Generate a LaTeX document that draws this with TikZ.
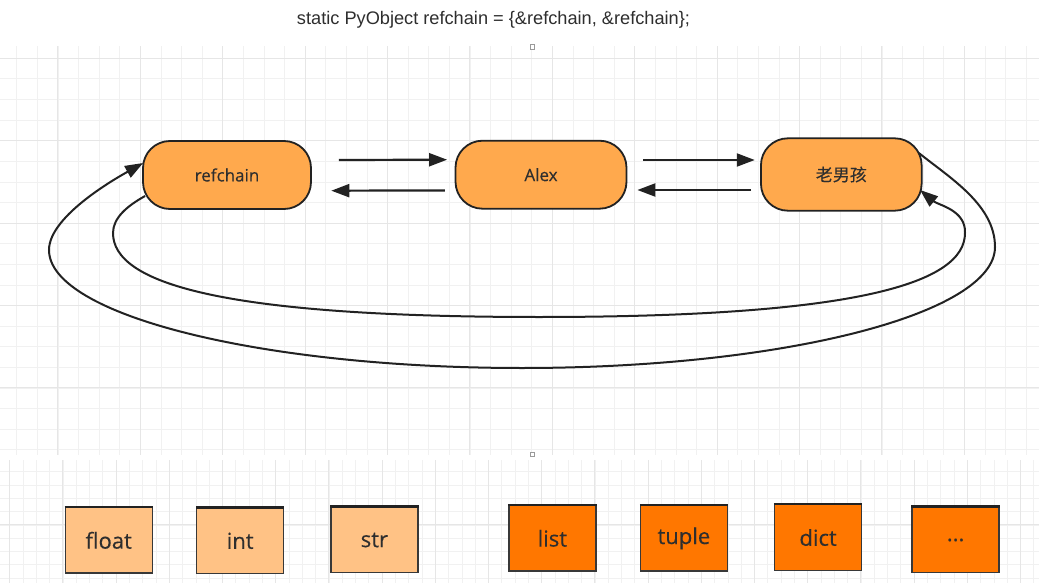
\documentclass[tikz,border=0pt]{standalone}
\usepackage{fontspec}
\setmainfont{Liberation Sans}
\newfontfamily\lblfont[FakeBold=0.3]{Open Sans}
\newfontfamily\cjk[FakeBold=0.3]{Noto Sans CJK SC}
\usetikzlibrary{arrows.meta,calc}
\definecolor{objfill}{HTML}{FFA94D}
\definecolor{lightbox}{HTML}{FFC285}
\definecolor{darkbox}{HTML}{FF7700}
\definecolor{ink}{HTML}{222222}
\definecolor{txt}{HTML}{2E2E2E}
\definecolor{gminor}{HTML}{F1F1F1}
\definecolor{gmajor}{HTML}{E6E6E6}
\definecolor{marker}{HTML}{9A9A9A}
\tikzset{
  obj/.style={draw=ink, line width=1.8pt, fill=objfill, rounded corners=27pt,
    minimum height=68pt, inner sep=0pt, text=txt,
    font=\lblfont\fontsize{17}{20}\selectfont},
  typebox/.style={draw=ink!90, line width=1.3pt, minimum width=87pt,
    minimum height=65.5pt, inner sep=0pt, text=txt,
    font=\lblfont\fontsize{22}{26}\selectfont},
  lighttype/.style={typebox, fill=lightbox},
  darktype/.style={typebox, fill=darkbox},
  link/.style={draw=ink, line width=2.2pt, -{Triangle[length=18pt,width=13pt]}},
  loopline/.style={draw=ink, line width=2pt, -{Triangle[length=18pt,width=13pt]}},
  gridminor/.style={draw=gminor, line width=0.8pt},
  gridmajor/.style={draw=gmajor, line width=1pt},
  pagemark/.style={draw=marker, fill=white, line width=0.8pt, minimum size=4.5pt, inner sep=0pt},
}
\begin{document}
\begin{tikzpicture}[x=1pt,y=-1pt]
\useasboundingbox (0,0) rectangle (1039,583);
\fill[white] (0,0) rectangle (1039,583);
% upper grid
\begin{scope}
  \clip (0,46.7) rectangle (1039,454.3);
  \foreach \k in {-3,...,48} {
    \draw[gridminor] ({57.9+20.6*\k},40) -- ({57.9+20.6*\k},460);
  }
  \foreach \k in {-1,...,19} {
    \draw[gridminor] (0,{58.3+20.6*\k}) -- (1039,{58.3+20.6*\k});
  }
  \foreach \k in {-1,...,12} {
    \draw[gridmajor] ({57.9+82.4*\k},40) -- ({57.9+82.4*\k},460);
  }
  \foreach \k in {0,...,4} {
    \draw[gridmajor] (0,{58.3+82.4*\k}) -- (1039,{58.3+82.4*\k});
  }
\end{scope}
% lower grid
\begin{scope}
  \clip (0,460.7) rectangle (1039,583);
  \foreach \k in {-42,...,38} {
    \draw[gridminor] ({541.7+13.3*\k},455) -- ({541.7+13.3*\k},590);
  }
  \foreach \k in {-1,...,9} {
    \draw[gridminor] (0,{471.7+13.3*\k}) -- (1039,{471.7+13.3*\k});
  }
  \foreach \k in {-11,...,10} {
    \draw[gridmajor] ({541.7+53.2*\k},455) -- ({541.7+53.2*\k},590);
  }
  \draw[gridmajor] (0,524.9) -- (1039,524.9);
\end{scope}
\node[pagemark] (m1) at (532.5,46.7) {};
\node[pagemark] (m2) at (532.5,454.5) {};
% title
\node[anchor=base, text=txt, font=\fontsize{18.2}{22}\selectfont] (title) at (493.5,25)
  {static PyObject refchain = \{\&refchain, \&refchain\};};
% objects
\node[obj, minimum width=168pt] (rc) at (227,175) {refchain};
\node[obj, minimum width=171pt] (al) at (541,174.7) {Alex};
\node[obj, minimum width=160.7pt, minimum height=72.4pt] (lb) at (841.3,174.5) {\cjk 老男孩};
% straight links
\draw[link] ($(rc.east)+(27,-15)$) -- ($(al.west)+(-7.5,-15)$);
\draw[link] ($(al.west)+(-9.8,15.7)$) -- ($(rc.east)+(19.4,15.7)$);
\draw[link] ($(al.east)+(16,-14.7)$) -- ($(lb.west)+(-5.3,-14.5)$);
\draw[link] ($(lb.west)+(-9,15.5)$) -- ($(al.east)+(10,15.3)$);
% outer loop: laonanhai -> refchain
\draw[loopline] ($(lb.east)+(-3.7,-21.5)$)
  .. controls (950,178) and (995,205) .. (995,247)
  .. controls (995,314) and (783,368) .. (522,368)
  .. controls (261,368) and (49,315) .. (49,250)
  .. controls (49,215) and (121,175.5) .. ($(rc.west)+(1,-12)$);
% inner loop: refchain -> laonanhai
\draw[loopline] ($(rc.west)+(3,21)$)
  .. controls (127,206) and (113,218) .. (113,233)
  .. controls (113,283) and (220,317) .. (539,317)
  .. controls (858,317) and (965,283) .. (965,233)
  .. controls (966,210) and (938,205) .. ($(lb.east)+(-2.5,15.5)$);
% type boxes
\node[lighttype] (fl) at (108.7,540.3) {float};
\node[lighttype] (in) at (240.2,540.8) {int};
\node[lighttype] (st) at (374.4,540) {str};
\node[darktype] (li) at (552.4,538.3) {list};
\node[darktype] (tu) at (683.9,538.3) {tuple};
\node[darktype] (di) at (818.1,537.5) {dict};
\node[darktype] (et) at (955.6,540) {...};
\foreach \n in {fl,in,st,li,tu,di,et} {
  \draw[draw=ink, line width=2.4pt] (\n.north west) -- (\n.north east);
}
\end{tikzpicture}
\end{document}
